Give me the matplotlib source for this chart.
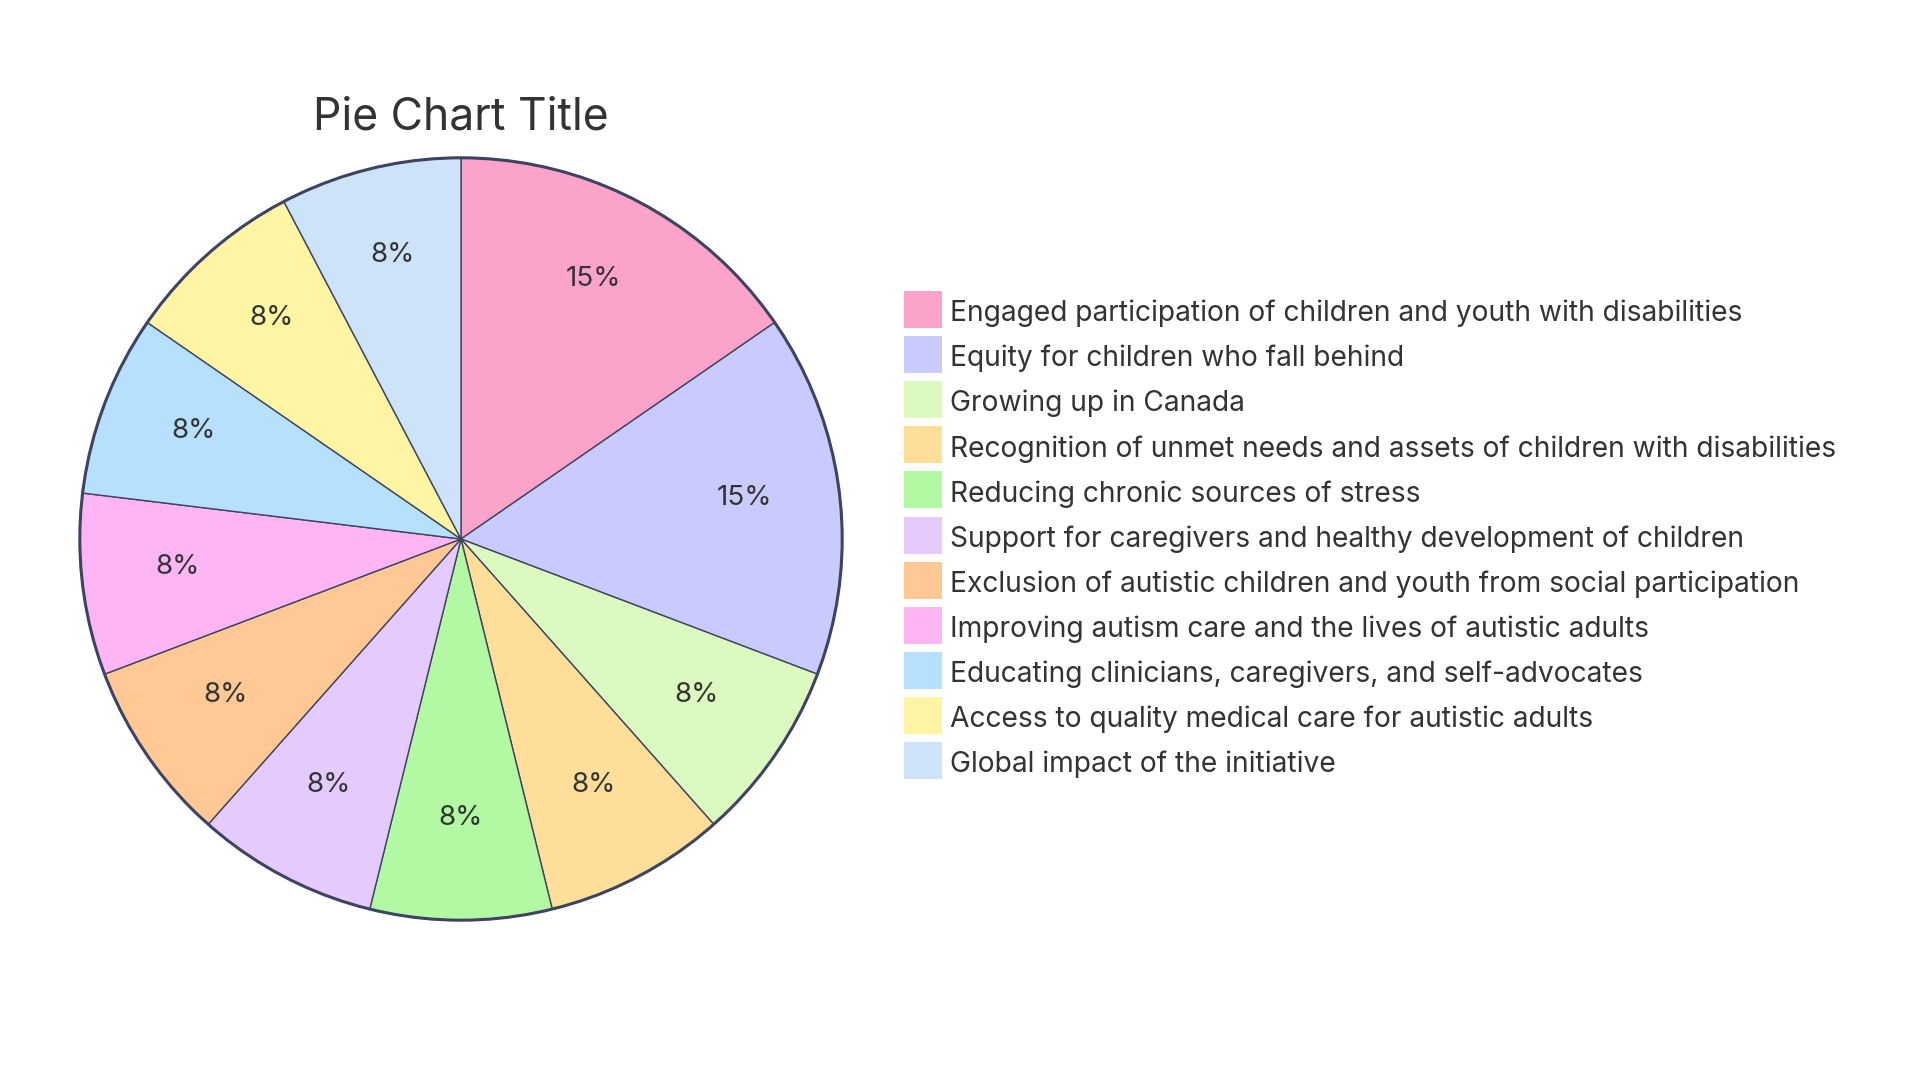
import matplotlib.pyplot as plt
from matplotlib.patches import Rectangle, Circle

plt.rcParams['font.family'] = ['Inter', 'DejaVu Sans']

categories = [
    "Engaged participation of children and youth with disabilities",
    "Equity for children who fall behind",
    "Growing up in Canada",
    "Recognition of unmet needs and assets of children with disabilities",
    "Reducing chronic sources of stress",
    "Support for caregivers and healthy development of children",
    "Exclusion of autistic children and youth from social participation",
    "Improving autism care and the lives of autistic adults",
    "Educating clinicians, caregivers, and self-advocates",
    "Access to quality medical care for autistic adults",
    "Global impact of the initiative",
]
values = [2, 2, 1, 1, 1, 1, 1, 1, 1, 1, 1]
colors = ["#FCA3CB", "#C9CAFD", "#DCF9C0", "#FEDE98", "#B3F8A2", "#E5CBFD",
          "#FFC894", "#FDB6F3", "#B6E0FE", "#FFF5A4", "#CDE3FA"]

edge = "#3D4361"
text_color = "#333333"

W, H = 1920, 1080
fig = plt.figure(figsize=(19.2, 10.8), dpi=100)

cx, cy, r = 461, 539, 385
ax = fig.add_axes([(cx - r) / W, (H - cy - r) / H, 2 * r / W, 2 * r / H])
wedges, _, autotexts = ax.pie(
    values, colors=colors, startangle=90, counterclock=False, radius=1,
    autopct='%.0f%%', pctdistance=0.75,
    wedgeprops=dict(edgecolor=edge, linewidth=1.0),
    textprops=dict(fontsize=20, color=text_color),
)
# nudge the percentage labels up a little
for t in autotexts:
    x, y = t.get_position()
    t.set_position((x, y + 0.018))
ax.add_patch(Circle((0, 0), 1, fill=False, edgecolor=edge, linewidth=2.2))
ax.set_xlim(-1.01, 1.01)
ax.set_ylim(-1.01, 1.01)
ax.set_aspect('equal')
ax.axis('off')

fig.text(cx / W, 1 - 118 / H, "Pie Chart Title", ha='center', va='center',
         fontsize=32, color=text_color)

# legend, laid out in pixels
lx, ly, step, sw, sh = 904, 291, 45.1, 38, 37
for i, (cat, col) in enumerate(zip(categories, colors)):
    top = ly + i * step
    fig.patches.append(Rectangle((lx / W, 1 - (top + sh) / H), sw / W, sh / H,
                                 facecolor=col, edgecolor='none',
                                 transform=fig.transFigure))
    fig.text((lx + sw + 8) / W, 1 - (top + sh / 2 + 4) / H, cat,
             ha='left', va='center', fontsize=20.3, color=text_color)

fig.savefig("out.png", dpi=100, facecolor='white')
